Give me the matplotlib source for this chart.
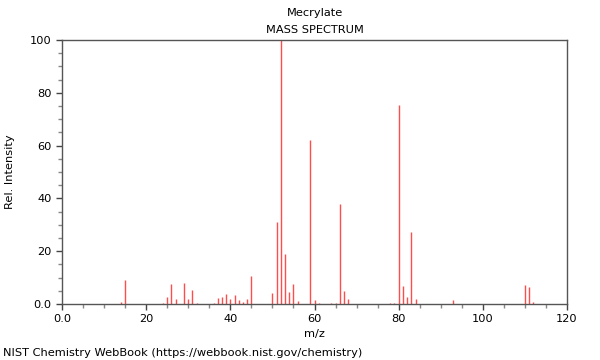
import matplotlib
matplotlib.use("Agg")
import matplotlib.pyplot as plt
from matplotlib.ticker import MultipleLocator, FuncFormatter

title = "Mecrylate"
subtitle = "MASS SPECTRUM"
mz = [14, 15, 24, 25, 26, 27, 29, 30, 31, 32, 36, 37, 38, 39, 40, 41, 42, 43, 44, 45,
      50, 51, 52, 53, 54, 55, 56, 59, 60, 61, 64, 65, 66, 67, 68,
      78, 79, 80, 81, 82, 83, 84, 93, 110, 111, 112]
intensity = [0.8, 9.1, 0.5, 2.6, 7.5, 1.9, 7.8, 1.9, 5.2, 0.4, 0.5, 2.1, 2.6, 3.8, 2.0, 3.3, 1.5, 0.9, 1.9, 10.6,
             4.3, 31.1, 100, 18.9, 4.5, 7.6, 1.3, 62.1, 1.5, 0.3, 0.3, 0.5, 37.9, 4.9, 1.9,
             0.5, 0.5, 75.4, 6.8, 2.8, 27.3, 1.8, 1.5, 7.3, 6.3, 0.8]

W, H = 600, 360
fs = 8.2
fig = plt.figure(figsize=(W / 100, H / 100), dpi=100)
ax = fig.add_axes([62 / W, 1 - 304 / H, (567 - 62) / W, (304 - 40) / H])

ax.vlines(mz, 0, intensity, colors="#ff4d4d", linewidth=1.0)
ax.set_xlim(0, 120)
ax.set_ylim(0, 100)

fmt = FuncFormatter(lambda v, p: "0.0" if abs(v) < 1e-9 else "%d" % round(v))
ax.xaxis.set_major_locator(MultipleLocator(20))
ax.xaxis.set_minor_locator(MultipleLocator(5))
ax.yaxis.set_major_locator(MultipleLocator(20))
ax.yaxis.set_minor_locator(MultipleLocator(5))
ax.xaxis.set_major_formatter(fmt)
ax.yaxis.set_major_formatter(fmt)
ax.tick_params(which="major", direction="out", length=4, width=1, labelsize=fs, colors="#444444", labelcolor="black")
ax.tick_params(which="minor", direction="out", length=3, width=1, colors="#888888")
for s in ax.spines.values():
    s.set_color("#555555")
    s.set_linewidth(1)

ax.set_xlabel("m/z", fontsize=fs, labelpad=3)
ax.set_ylabel("Rel. Intensity", fontsize=fs, labelpad=11)

fig.text(314.5 / W, 1 - 13 / H, title, ha="center", va="center", fontsize=fs)
fig.text(314.5 / W, 1 - 30 / H, subtitle, ha="center", va="center", fontsize=fs)
fig.text(3 / W, 1 - 353 / H, "NIST Chemistry WebBook (https://webbook.nist.gov/chemistry)",
         ha="left", va="center", fontsize=fs)

fig.savefig("out.png", dpi=100)
